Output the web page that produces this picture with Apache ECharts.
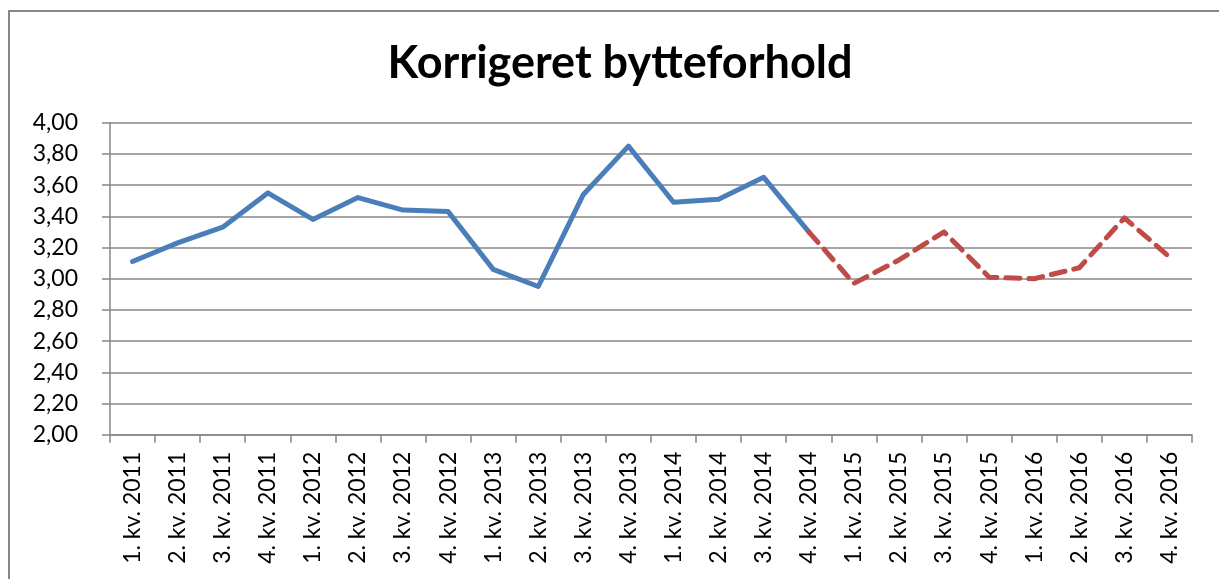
<!DOCTYPE html>
<html>
<head>
<meta charset="utf-8">
<script src="https://cdn.jsdelivr.net/npm/echarts@6/dist/echarts.min.js"></script>
<style>
html,body{margin:0;padding:0;background:#fff;}
#c{width:1219px;height:579px;}
</style>
</head>
<body>
<div id="c"></div>
<script>
var titleText = 'Korrigeret bytteforhold';
var categories = [
  '1. kv. 2011','2. kv. 2011','3. kv. 2011','4. kv. 2011',
  '1. kv. 2012','2. kv. 2012','3. kv. 2012','4. kv. 2012',
  '1. kv. 2013','2. kv. 2013','3. kv. 2013','4. kv. 2013',
  '1. kv. 2014','2. kv. 2014','3. kv. 2014','4. kv. 2014',
  '1. kv. 2015','2. kv. 2015','3. kv. 2015','4. kv. 2015',
  '1. kv. 2016','2. kv. 2016','3. kv. 2016','4. kv. 2016'
];
var actual = [3.11,3.23,3.33,3.55,3.38,3.52,3.44,3.43,3.06,2.95,3.54,3.85,3.49,3.51,3.65,3.30,
  null,null,null,null,null,null,null,null];
var forecast = [null,null,null,null,null,null,null,null,null,null,null,null,null,null,null,
  3.30,2.97,3.12,3.30,3.01,3.00,3.07,3.39,3.14];
var yMin = 2.0, yMax = 4.0, yStep = 0.2;

var chart = echarts.init(document.getElementById('c'), null, {renderer:'canvas'});
var gray = '#878787';
var font = 'Lato, "Open Sans", sans-serif';
chart.setOption({
  animation:false,
  backgroundColor:'#fff',
  title:{
    text:titleText, left:615, top:36, textAlign:'center',
    textStyle:{fontFamily:font, fontWeight:'bold', fontSize:45, color:'#000'}
  },
  graphic:[{
    type:'rect', shape:{x:9, y:11, width:1400, height:800},
    style:{fill:null, stroke:gray, lineWidth:2}, silent:true, z:-1
  }],
  grid:{left:110, right:27, top:122.7, bottom:144.3, containLabel:false},
  xAxis:{
    type:'category', data:categories, boundaryGap:true,
    axisLine:{show:true, lineStyle:{color:gray, width:1.5}},
    axisTick:{show:true, length:8, lineStyle:{color:gray, width:1.5}},
    axisLabel:{rotate:90, margin:17, interval:0, fontFamily:font, fontSize:23, color:'#000'},
    splitLine:{show:false}
  },
  yAxis:{
    type:'value', min:yMin, max:yMax, interval:yStep,
    axisLine:{show:true, lineStyle:{color:gray, width:1.5}},
    axisTick:{show:true, length:8, lineStyle:{color:gray, width:1.5}},
    axisLabel:{margin:32, fontFamily:font, fontSize:23, color:'#000',
      formatter:function(v){return v.toFixed(2).replace('.',',');}},
    splitLine:{show:true, lineStyle:{color:gray, width:1.5}}
  },
  series:[
    {type:'line', data:actual, showSymbol:false, symbol:'none', connectNulls:false,
      lineStyle:{color:'#4A7EBB', width:5, join:'round', cap:'round'}, z:3},
    {type:'line', data:forecast, showSymbol:false, symbol:'none', connectNulls:false,
      lineStyle:{color:'#BE4B48', width:5, type:[14,9], join:'round', cap:'round'}, z:4}
  ]
});
</script>
</body>
</html>
